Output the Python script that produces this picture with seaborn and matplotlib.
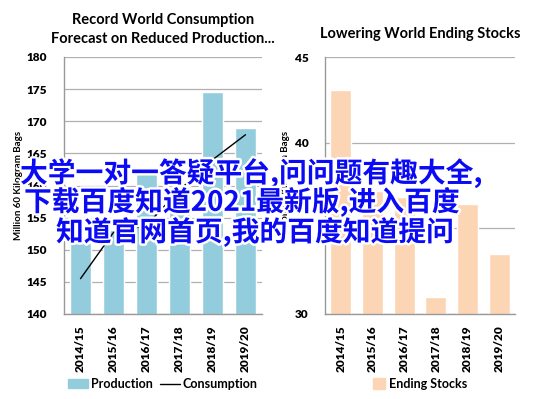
import matplotlib
matplotlib.use("Agg")
import matplotlib.pyplot as plt
import matplotlib.patheffects as pe
from matplotlib.lines import Line2D
from matplotlib.patches import Patch
import seaborn as sns
import pandas as pd

seasons = ["2014/15", "2015/16", "2016/17", "2017/18", "2018/19", "2019/20"]
production = [151.0, 153.0, 162.0, 159.5, 174.5, 169.0]
consumption = [145.5, 152.7, 153.8, 159.3, 164.0, 167.9]
ending_stocks = [43.1, 37.2, 36.8, 31.0, 36.4, 33.5]

left_title = "Record World Consumption\nForecast on Reduced Production..."
right_title = "Lowering World Ending Stocks"
ylabel = "Million 60 Kilogram Bags"
overlay = ["大学一对一答疑平台,问问题有趣大全,",
           "下载百度知道2021最新版,进入百度",
           "知道官网首页,我的百度知道提问"]

PROD_COLOR = "#93CDDD"
STOCK_COLOR = "#FCD5B5"
GRID = "#B0B0B0"

sns.set_style("white")
plt.rcParams["font.family"] = ["Lato", "DejaVu Sans"]
plt.rcParams["text.color"] = "black"
plt.rcParams["xtick.color"] = "black"
plt.rcParams["ytick.color"] = "black"
plt.rcParams["axes.labelcolor"] = "black"

df = pd.DataFrame({"season": seasons, "production": production,
                   "consumption": consumption, "stocks": ending_stocks})

fig = plt.figure(figsize=(5.37, 3.99), dpi=100)
W, H = 537, 399
axl = fig.add_axes([64 / W, (H - 314) / H, 198 / W, 257 / H])
axr = fig.add_axes([325 / W, (H - 314) / H, 190 / W, 257 / H])


def style_axis(ax, ticks):
    ax.set_yticks(ticks)
    ax.set_ylim(ticks[0], ticks[-1])
    ax.set_xlim(-0.5, 5.5)
    ax.yaxis.grid(True, color=GRID, lw=0.9)
    ax.set_axisbelow(True)
    for s in ["top", "right"]:
        ax.spines[s].set_visible(False)
    for s in ["left", "bottom"]:
        ax.spines[s].set_color("#999999")
        ax.spines[s].set_linewidth(1.0)
    ax.tick_params(axis="y", length=5, width=0.8, color="#999999", labelsize=8.5, pad=7)
    ax.tick_params(axis="x", length=0, labelsize=8.5, pad=8)
    ax.set_xticks(range(len(seasons)))
    ax.set_xticklabels(seasons, rotation=90, fontweight="heavy")
    ax.set_yticklabels([str(t) for t in ticks], fontweight="heavy")
    ax.set_xticks([i - 0.5 for i in range(len(seasons) + 1)], minor=True)
    ax.tick_params(axis="x", which="minor", length=5, width=0.8, color="#999999")
    ax.set_xlabel("")
    ax.set_ylabel(ylabel, fontsize=7, fontweight="bold", labelpad=3)


sns.barplot(data=df, x="season", y="production", color=PROD_COLOR,
            width=0.66, ax=axl, saturation=1)
sns.lineplot(data=df, x="season", y="consumption", color="black", lw=1.0, ax=axl)
style_axis(axl, [140, 145, 150, 155, 160, 165, 170, 175, 180])
axl.set_title(left_title, fontsize=10.5, fontweight="bold", pad=10, linespacing=1.45)

sns.barplot(data=df, x="season", y="stocks", color=STOCK_COLOR,
            width=0.66, ax=axr, saturation=1)
style_axis(axr, [30, 35, 40, 45])
axr.set_title(right_title, fontsize=10.5, fontweight="bold", pad=14)

fig.legend(handles=[Patch(color=PROD_COLOR, label="Production"),
                    Line2D([], [], color="black", lw=1.0, label="Consumption")],
           loc="center", bbox_to_anchor=(163 / W, 1 - 384 / H), ncol=2, frameon=False,
           handlelength=1.6, handletextpad=0.2, columnspacing=0.6,
           prop={"weight": "bold", "size": 9})
fig.legend(handles=[Patch(color=STOCK_COLOR, label="Ending Stocks")],
           loc="center", bbox_to_anchor=(420 / W, 1 - 384 / H), frameon=False,
           handlelength=1.0, handleheight=1.0, handletextpad=0.3,
           prop={"weight": "bold", "size": 9})

starts = [20, 24, 56]
ys = [173, 202, 232]
for txt, x0, y0 in zip(overlay, starts, ys):
    fig.text(x0 / W, 1 - y0 / H, txt, fontsize=20, color="#0A0AF5", fontweight="bold",
             family=["Noto Sans CJK SC", "DejaVu Sans"], va="center", ha="left",
             path_effects=[pe.withStroke(linewidth=3.5, foreground="white")])

fig.savefig("out.png", dpi=100)
